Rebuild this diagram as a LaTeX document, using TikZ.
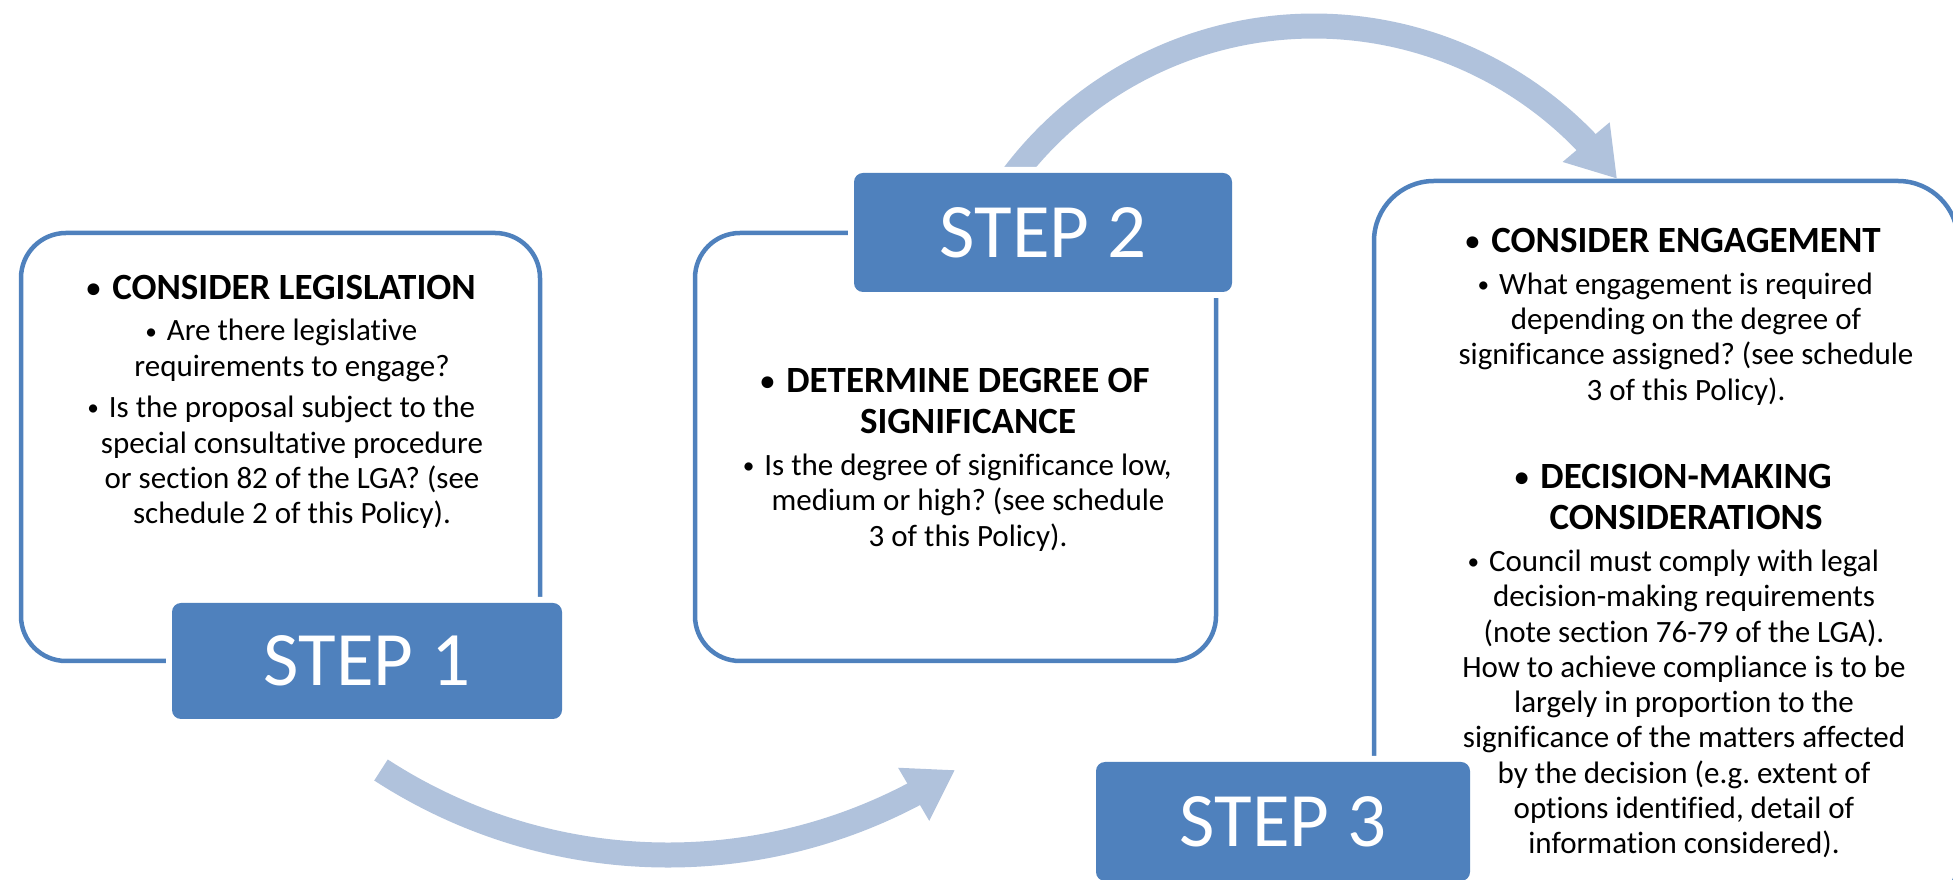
\documentclass[tikz,border=0pt]{standalone}
\usepackage{fontspec}
\usepackage{graphicx}
\setmainfont{Carlito}[Ligatures=NoCommon]
\frenchspacing
\usetikzlibrary{arrows.meta,bending}
\definecolor{stepblue}{HTML}{4F81BD}
\definecolor{arrowblue}{HTML}{B0C2DC}
\newcommand{\hbul}{\llap{\raisebox{0.06em}{\scalebox{0.75}{•}}\hspace{0.32em}}}
\begin{document}
\begin{tikzpicture}[x=1pt,y=1pt,
  outline/.style={draw=stepblue, line width=4.5pt, rounded corners=45pt},
  stepbox/.style={fill=stepblue, rounded corners=9pt, text=white, inner sep=0pt,
    font=\fontsize{77}{90}\selectfont,
    preaction={draw=white, line width=12pt}},
  flowarrow/.style={draw=arrowblue, line width=25pt, -{Triangle[width=58pt,length=48pt]}},
  bodytxt/.style={align=center, inner sep=0pt, font=\fontsize{31}{35.3}\selectfont},
  headtxt/.style={align=center, inner sep=0pt, font=\bfseries\fontsize{37}{41}\selectfont},
]
\useasboundingbox (0,0) rectangle (1953,880);
\clip (0,0) rectangle (1953,880);

% outline boxes
\draw[outline] (21,219) rectangle (540,647);
\draw[outline] (695,219) rectangle (1216,647);
\draw[outline, rounded corners=60pt] (1374,-40) rectangle (1958,699);

% arrows
\coordinate (a1s) at (381,110);
\coordinate (a2s) at (1005.2,693.2);
\draw[flowarrow] (a1s) arc[start angle=237, end angle=303, radius=527];
\draw[flowarrow] (a2s) arc[start angle=145, end angle=36.5, radius=377];

% step boxes
\node[stepbox, minimum width=390pt, minimum height=116pt] (s1) at (367,219) {STEP 1};
\node[stepbox, minimum width=378pt, minimum height=119pt] (s2) at (1043,647.5) {STEP 2};
\node[stepbox, minimum width=374pt, minimum height=119pt] (s3) at (1283,58.5) {STEP 3};

% box 1 text
\node[headtxt] (h1) at (294,592) {\hbul CONSIDER LEGISLATION};
\node[bodytxt] (b1a) at (292,529.5) {\hbul Are there legislative\\requirements to engage?};
\node[bodytxt] (b1b) at (292,417.5) {\hbul Is the proposal subject to the\\special consultative procedure\\or section 82 of the LGA? (see\\schedule 2 of this Policy).};

% box 2 text
\node[headtxt] (h2) at (968,479) {\hbul DETERMINE DEGREE OF\\SIGNIFICANCE};
\node[bodytxt] (b2) at (968,377.5) {\hbul Is the degree of significance low,\\medium or high? (see schedule\\3 of this Policy).};

% box 3 text
\node[headtxt] (h3a) at (1686,639) {\hbul CONSIDER ENGAGEMENT};
\node[bodytxt] (b3a) at (1686,541) {\hbul What engagement is required\\depending on the degree of\\significance assigned? (see schedule\\3 of this Policy).};
\node[headtxt] (h3b) at (1686,382.5) {\hbul DECISION-MAKING\\CONSIDERATIONS};
\node[bodytxt] (b3b) at (1684,176) {\hbul Council must comply with legal\\decision-making requirements\\(note section 76-79 of the LGA).\\How to achieve compliance is to be\\largely in proportion to the\\significance of the matters affected\\by the decision (e.g. extent of\\options identified, detail of\\information considered).};
\end{tikzpicture}
\end{document}
